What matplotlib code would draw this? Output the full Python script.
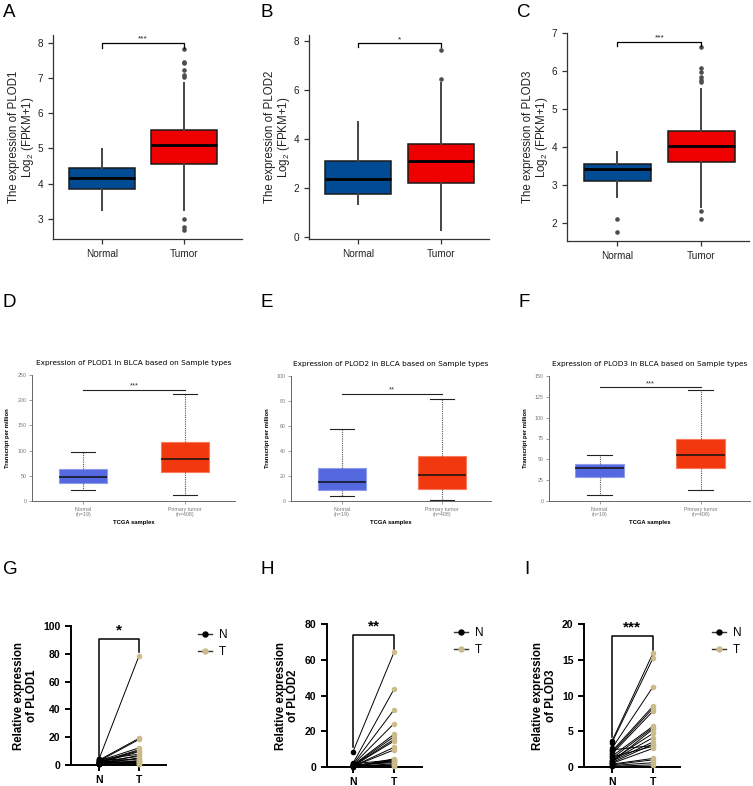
import matplotlib
matplotlib.use('Agg')
import matplotlib.pyplot as plt
from matplotlib.lines import Line2D

plt.rcParams['font.family'] = ['Liberation Sans', 'DejaVu Sans']
plt.rcParams['mathtext.fontset'] = 'custom'
plt.rcParams['mathtext.rm'] = 'Liberation Sans'

# ---------------- data ----------------
# Row 1 (A-C): box stats [whislo, q1, median, q3, whishi]
genes = ['PLOD1', 'PLOD2', 'PLOD3']
groups_top = ['Normal', 'Tumor']
A_normal = [3.25, 3.86, 4.16, 4.44, 4.98]
A_tumor = [3.25, 4.56, 5.10, 5.53, 6.85]
A_normal_out = []
A_tumor_out = [7.81, 7.46, 7.42, 7.23, 7.08, 7.04, 3.00, 2.78, 2.69]
B_normal = [1.35, 1.77, 2.36, 3.11, 4.70]
B_tumor = [0.29, 2.19, 3.09, 3.79, 6.26]
B_normal_out = []
B_tumor_out = [6.44, 7.62]
C_normal = [2.69, 3.10, 3.42, 3.56, 3.86]
C_tumor = [2.42, 3.60, 4.02, 4.42, 5.52]
C_normal_out = [2.11, 1.76]
C_tumor_out = [6.62, 6.08, 5.96, 5.84, 5.77, 5.70, 2.32, 2.11]
top_stars = ['***', '*', '***']

# Row 2 (D-F): box stats [whislo, q1, median, q3, whishi]
groups_mid = ['Normal\n(n=19)', 'Primary tumor\n(n=408)']
D_normal = [21, 35, 48, 63, 98]
D_tumor = [11, 58, 84, 117, 212]
E_normal = [4.3, 8.6, 15, 26.5, 58]
E_tumor = [0.6, 9.4, 21, 36.4, 82]
F_normal = [7, 29, 40, 44, 55]
F_tumor = [13, 40, 55, 75, 133]
mid_stars = ['***', '**', '***']

# Row 3 (G-I): paired qPCR
pair_labels = ['N', 'T']
G_N = [4.2, 3.5, 2.8, 3.0, 2.1, 1.5, 4.0, 1.0, 2.5, 0.8, 1.8, 3.8, 0.5, 1.2, 2.2, 0.9, 3.2, 1.6, 0.6, 2.0]
G_T = [78.5, 19.2, 18.4, 12.3, 11.0, 9.6, 7.8, 7.0, 6.2, 5.1, 4.5, 3.6, 3.0, 2.4, 1.8, 1.2, 0.9, 2.7, 0.6, 10.2]
H_N = [8.4, 2.0, 1.5, 1.2, 1.0, 0.8, 0.6, 0.5, 0.4, 0.3, 0.2, 1.8, 0.7, 0.9, 1.1, 0.3, 0.5, 0.2, 1.4, 0.6]
H_T = [64.2, 43.6, 32.0, 24.3, 18.3, 17.0, 15.5, 14.5, 11.0, 9.6, 4.6, 4.0, 3.5, 3.0, 2.5, 1.8, 1.2, 0.8, 0.5, 3.8]
I_N = [3.6, 3.4, 2.6, 2.2, 2.0, 1.8, 1.5, 1.2, 1.0, 0.9, 0.8, 0.6, 0.5, 0.4, 0.3, 0.2, 0.1, 1.4, 0.7, 2.4]
I_T = [15.9, 15.2, 11.2, 8.5, 8.2, 7.8, 5.7, 5.5, 4.7, 4.1, 3.5, 3.2, 2.6, 1.2, 1.0, 0.6, 0.3, 2.9, 5.3, 3.0]
bot_stars = ['*', '**', '***']

# ---------------- layout ----------------
W, H = 753, 786
fig = plt.figure(figsize=(W / 100, H / 100), dpi=100)


def ax_px(l, t, r, b):
    return fig.add_axes([l / W, 1 - b / H, (r - l) / W, (b - t) / H])


def mkstats(s, fl=()):
    return dict(whislo=s[0], q1=s[1], med=s[2], q3=s[3], whishi=s[4], fliers=list(fl))


# ---- Row 1 ----
def top_panel(box, normal, tumor, nout, tout, gene, ylim, yticks, xlim, brk, star):
    ax = ax_px(*box)
    bp = ax.bxp([mkstats(normal, nout), mkstats(tumor, tout)], positions=[1, 2], widths=0.8,
                patch_artist=True, showcaps=False,
                boxprops=dict(edgecolor='#1a1a1a', linewidth=1.1),
                medianprops=dict(color='black', linewidth=2.0),
                whiskerprops=dict(color='#444444', linewidth=1.4),
                flierprops=dict(marker='o', markersize=2.3, markerfacecolor='#4d4d4d',
                                markeredgecolor='#4d4d4d'))
    bp['boxes'][0].set_facecolor('#014a94')
    bp['boxes'][1].set_facecolor('#ee0000')
    ax.set_xlim(*xlim)
    ax.set_ylim(*ylim)
    ax.set_yticks(yticks)
    ax.set_xticks([1, 2], groups_top)
    for s in ['top', 'right']:
        ax.spines[s].set_visible(False)
    for s in ['left', 'bottom']:
        ax.spines[s].set_color('#333333')
        ax.spines[s].set_linewidth(0.9)
    ax.tick_params(labelsize=7.2, colors='#333333', length=3.5, width=0.9, labelcolor='#222222')
    ax.set_ylabel('The expression of %s\nLog$_\\mathregular{2}$ (FPKM+1)' % gene,
                  fontsize=8.3, color='#222222', labelpad=1.5, linespacing=0.95)
    y0, y1 = brk
    ax.plot([1, 1, 2, 2], [y1, y0, y0, y1], color='black', lw=0.9, clip_on=False)
    ax.text(1.5, y0, star, ha='center', va='bottom', fontsize=6, color='#222222')
    return ax


top_panel((53, 35, 242, 239), A_normal, A_tumor, A_normal_out, A_tumor_out, genes[0],
          (2.43, 8.22), [3, 4, 5, 6, 7, 8], (0.40, 2.71), (8.0, 7.86), top_stars[0])
top_panel((309, 35, 489, 239), B_normal, B_tumor, B_normal_out, B_tumor_out, genes[1],
          (-0.08, 8.23), [0, 2, 4, 6, 8], (0.41, 2.58), (7.9, 7.73), top_stars[1])
top_panel((567, 33, 749, 241), C_normal, C_tumor, C_normal_out, C_tumor_out, genes[2],
          (1.52, 7.0), [2, 3, 4, 5, 6, 7], (0.40, 2.57), (6.77, 6.65), top_stars[2])


# ---- Row 2 ----
def mid_panel(box, normal, tumor, gene, ylim, yticks, xlim, sig, star):
    ax = ax_px(*box)
    bp = ax.bxp([mkstats(normal), mkstats(tumor)], positions=[1, 2], widths=0.48,
                patch_artist=True, showfliers=False,
                boxprops=dict(linewidth=0.8),
                medianprops=dict(color='#111111', linewidth=1.1),
                whiskerprops=dict(color='#555555', linewidth=0.8, linestyle=(0, (1, 1))),
                capprops=dict(color='#222222', linewidth=0.8))
    bp['boxes'][0].set_facecolor('#5468e0')
    bp['boxes'][0].set_edgecolor('#8f9cec')
    bp['boxes'][1].set_facecolor('#f2380f')
    bp['boxes'][1].set_edgecolor('#f77a5c')
    ax.set_xlim(*xlim)
    ax.set_ylim(*ylim)
    ax.set_yticks(yticks)
    ax.set_xticks([1, 2], groups_mid)
    for s in ['top', 'right']:
        ax.spines[s].set_visible(False)
    for s in ['left', 'bottom']:
        ax.spines[s].set_color('#666666')
        ax.spines[s].set_linewidth(0.7)
    ax.tick_params(labelsize=3.8, colors='#777777', length=2, width=0.5, labelcolor='#777777', pad=2)
    ax.set_ylabel('Transcript per million', fontsize=4.2, fontweight='bold', labelpad=5)
    ax.set_xlabel('TCGA samples', fontsize=4.2, fontweight='bold', labelpad=2)
    ax.set_title('Expression of %s in BLCA based on Sample types' % gene, fontsize=5.3,
                 family='DejaVu Sans', pad=7)
    ax.plot([1, 2], [sig, sig], color='#222222', lw=0.8)
    ax.text(1.5, sig, star, ha='center', va='bottom', fontsize=5.5, color='#333333')
    return ax


mid_panel((32, 375, 235, 501), D_normal, D_tumor, genes[0], (0, 250),
          [0, 50, 100, 150, 200, 250], (0.5, 2.49), 221, mid_stars[0])
mid_panel((291, 376, 491, 501), E_normal, E_tumor, genes[1], (0, 100),
          [0, 20, 40, 60, 80, 100], (0.49, 2.49), 86, mid_stars[1])
mid_panel((549, 376, 750, 501), F_normal, F_tumor, genes[2], (0, 150),
          [0, 25, 50, 75, 100, 125, 150], (0.5, 2.49), 136.5, mid_stars[2])


# ---- Row 3 ----
tan = '#cbbb8b'


def bot_panel(box, N, T, gene, ylim, yticks, xlim, brk, star, leg_xy):
    ax = ax_px(*box)
    for n, t in zip(N, T):
        ax.plot([0, 1], [n, t], color='black', lw=0.7, zorder=2)
    ax.scatter([0] * len(N), N, s=16, color='black', zorder=3, clip_on=False, linewidths=0)
    ax.scatter([1] * len(T), T, s=16, color=tan, zorder=3, clip_on=False, linewidths=0)
    ax.set_xlim(*xlim)
    ax.set_ylim(*ylim)
    ax.set_yticks(yticks)
    ax.set_xticks([0, 1], pair_labels)
    for s in ['top', 'right']:
        ax.spines[s].set_visible(False)
    for s in ['left', 'bottom']:
        ax.spines[s].set_linewidth(1.4)
    ax.tick_params(labelsize=7.5, length=4, width=1.4)
    for lab in ax.get_xticklabels() + ax.get_yticklabels():
        lab.set_fontweight('bold')
    ax.set_ylabel('Relative expression\nof %s' % gene, fontsize=8.3, fontweight='bold',
                  labelpad=4, linespacing=1.05)
    top, l_end, r_end = brk
    ax.plot([0, 0, 1, 1], [l_end, top, top, r_end], color='black', lw=1.1, clip_on=False)
    ax.text(0.5, top + (ylim[1] - ylim[0]) * 0.01, star, ha='center', va='bottom',
            fontsize=11, fontweight='bold')
    handles = [Line2D([], [], color='#333333', lw=1.0, marker='o', markersize=3.6,
                      markerfacecolor='black', markeredgecolor='black'),
               Line2D([], [], color='#333333', lw=1.0, marker='o', markersize=3.6,
                      markerfacecolor=tan, markeredgecolor=tan)]
    ax.legend(handles, pair_labels, loc='upper left',
              bbox_to_anchor=(leg_xy[0] / W, 1 - leg_xy[1] / H), bbox_transform=fig.transFigure,
              frameon=False, fontsize=8.5, handlelength=1.2, handletextpad=0.6,
              labelspacing=0.45, borderpad=0, borderaxespad=0)
    return ax


bot_panel((71, 626, 166, 765), G_N, G_T, genes[0], (0, 100), [0, 20, 40, 60, 80, 100],
          (-0.7, 1.675), (91, 6.7, 81), bot_stars[0], (198, 629))
bot_panel((327, 624, 422, 767), H_N, H_T, genes[1], (0, 80), [0, 20, 40, 60, 80],
          (-0.63, 1.68), (73.8, 11.2, 66), bot_stars[1], (454, 627))
bot_panel((584, 624, 680, 767), I_N, I_T, genes[2], (0, 20), [0, 5, 10, 15, 20],
          (-0.68, 1.66), (18.3, 4.2, 16.3), bot_stars[2], (712, 627))

# ---- panel letters ----
letters = [('A', 3, 4), ('B', 261, 4), ('C', 517, 4),
           ('D', 3, 294), ('E', 261, 294), ('F', 519, 294),
           ('G', 3, 561), ('H', 261, 561), ('I', 524, 561)]
for lab, x, y in letters:
    fig.text(x / W, 1 - y / H, lab, fontsize=13.5, ha='left', va='top')

fig.savefig('out.png', dpi=100)
